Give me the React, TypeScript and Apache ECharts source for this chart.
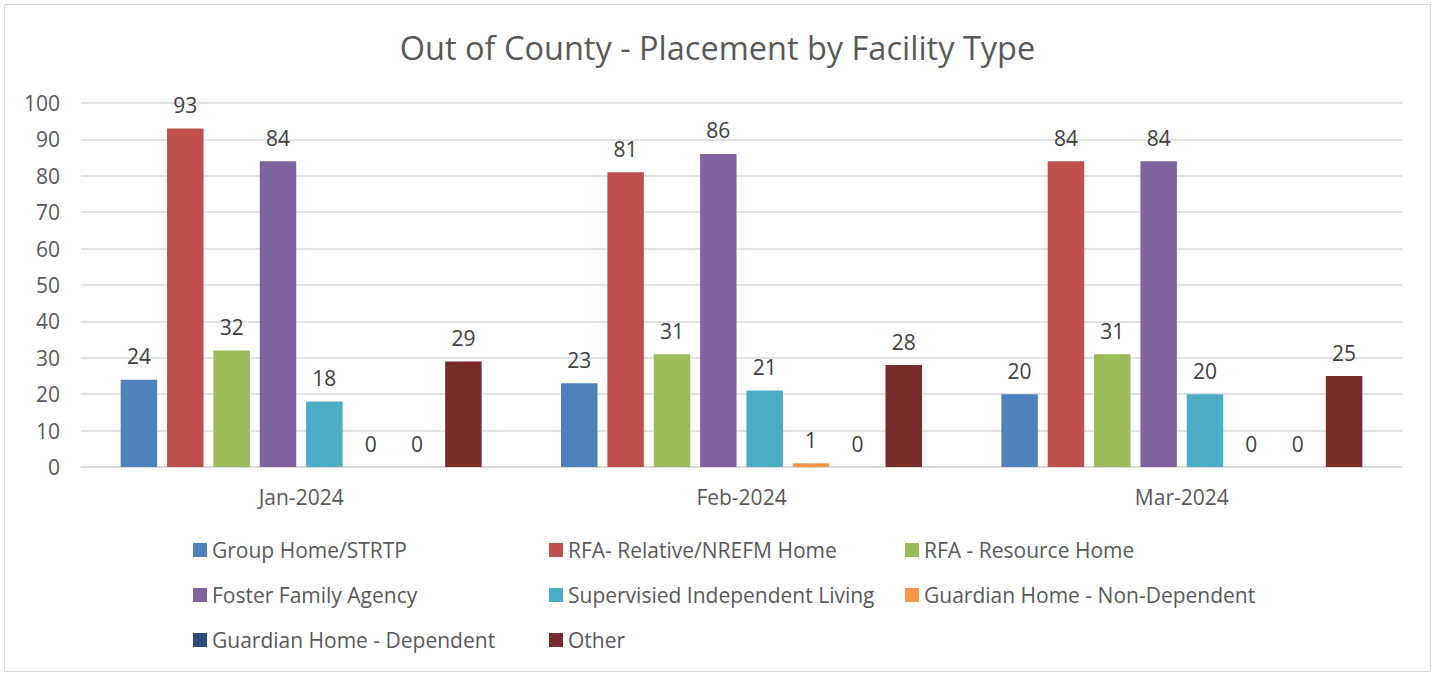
import React, { useEffect, useRef } from "react";
import * as echarts from "echarts";

const months = ["Jan-2024", "Feb-2024", "Mar-2024"];
const seriesNames = [
  "Group Home/STRTP",
  "RFA- Relative/NREFM Home",
  "RFA - Resource Home",
  "Foster Family Agency",
  "Supervisied Independent Living",
  "Guardian Home - Non-Dependent",
  "Guardian Home - Dependent",
  "Other",
];
const groupHome = [24, 23, 20];
const rfaRelative = [93, 81, 84];
const rfaResource = [32, 31, 31];
const fosterFamily = [84, 86, 84];
const supervised = [18, 21, 20];
const guardianNonDep = [0, 1, 0];
const guardianDep = [0, 0, 0];
const other = [29, 28, 25];
const yTicks = [0, 10, 20, 30, 40, 50, 60, 70, 80, 90, 100];

const allValues = [groupHome, rfaRelative, rfaResource, fosterFamily, supervised, guardianNonDep, guardianDep, other];
const colors = ["#4F81BD", "#C0504D", "#9BBB59", "#8064A2", "#4BACC6", "#F79646", "#2C4D75", "#772C2A"];

const FONT = "'Open Sans', sans-serif";
const TXT = "#595959";

export default function App() {
  const ref = useRef<HTMLDivElement>(null);
  useEffect(() => {
    if (!ref.current) return;
    const chart = echarts.init(ref.current, null, { renderer: "svg" });
    const legendCols = [
      [seriesNames[0], seriesNames[3], seriesNames[6]],
      [seriesNames[1], seriesNames[4], seriesNames[7]],
      [seriesNames[2], seriesNames[5]],
    ];
    const legendLefts = [188, 544, 900];
    chart.setOption({
      animation: false,
      textStyle: { fontFamily: FONT },
      title: {
        text: "Out of County - Placement by Facility Type",
        left: "center",
        top: 26,
        textStyle: { fontFamily: FONT, fontSize: 32.5, fontWeight: "normal", color: TXT },
      },
      graphic: [
        {
          type: "rect",
          shape: { x: 4.5, y: 4.5, width: 1426, height: 667 },
          style: { fill: "none", stroke: "#d9d9d9", lineWidth: 1 },
          silent: true,
        },
      ],
      legend: legendCols.map((col, i) => ({
        data: col,
        orient: "vertical",
        left: legendLefts[i],
        top: 534.5,
        itemWidth: 14,
        itemHeight: 14,
        itemGap: 24,
        icon: "rect",
        textStyle: { fontFamily: FONT, fontSize: 21, lineHeight: 21, color: TXT },
      })),
      grid: { left: 81, right: 33, top: 103, bottom: 209, containLabel: false },
      xAxis: {
        type: "category",
        data: months,
        axisLine: { lineStyle: { color: "#d9d9d9", width: 1.5 } },
        axisTick: { show: false },
        axisLabel: { fontFamily: FONT, fontSize: 21, color: TXT, margin: 19 },
      },
      yAxis: {
        type: "value",
        min: yTicks[0],
        max: yTicks[yTicks.length - 1],
        interval: 10,
        axisLine: { show: false },
        axisTick: { show: false },
        axisLabel: { fontFamily: FONT, fontSize: 21, color: TXT, margin: 21 },
        splitLine: { lineStyle: { color: "#d9d9d9", width: 1.5 } },
      },
      series: seriesNames.map((name, i) => ({
        name,
        type: "bar",
        data: allValues[i],
        barWidth: 36.5,
        barGap: "27%",
        itemStyle: { color: colors[i] },
        label: {
          show: true,
          position: "top",
          distance: 13,
          fontFamily: FONT,
          fontSize: 21,
          color: "#404040",
        },
      })),
    });
    return () => chart.dispose();
  }, []);
  return (
    <div
      ref={ref}
      style={{ position: "absolute", left: 0, top: 0, width: 1435, height: 676, background: "#fff" }}
    />
  );
}
